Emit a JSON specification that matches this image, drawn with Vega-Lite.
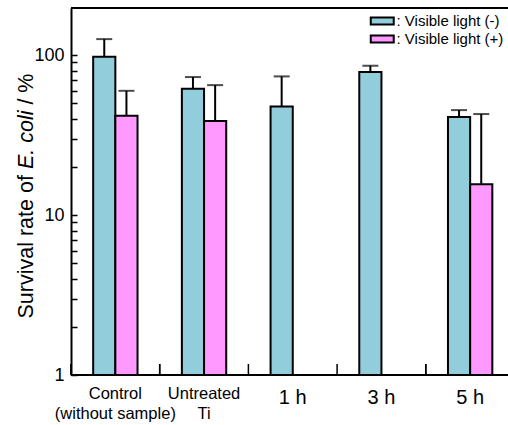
{
  "$schema": "https://vega.github.io/schema/vega-lite/v6.json",
  "width": 437,
  "height": 367,
  "autosize": {"type": "none"},
  "padding": {"left": 71, "top": 8, "right": 0, "bottom": 50},
  "background": "white",
  "config": {
    "view": {"stroke": null},
    "font": "Liberation Sans",
    "axis": {"labelColor": "black", "titleColor": "black", "domainColor": "black", "tickColor": "black", "grid": false}
  },
  "data": {
    "values": [
      {"cat": "Control", "light": "Visible light (-)", "value": 97.5, "upper": 125.9},
      {"cat": "Control", "light": "Visible light (+)", "value": 41.8, "upper": 59.8},
      {"cat": "Untreated", "light": "Visible light (-)", "value": 61.6, "upper": 72.9},
      {"cat": "Untreated", "light": "Visible light (+)", "value": 38.7, "upper": 64.9},
      {"cat": "1 h", "light": "Visible light (-)", "value": 47.8, "upper": 73.6},
      {"cat": "3 h", "light": "Visible light (-)", "value": 78.3, "upper": 85.8},
      {"cat": "5 h", "light": "Visible light (-)", "value": 41.0, "upper": 45.3},
      {"cat": "5 h", "light": "Visible light (+)", "value": 15.6, "upper": 42.8}
    ]
  },
  "resolve": {"axis": {"y": "independent"}},
  "layer": [
    {
      "mark": {"type": "bar", "stroke": "black", "strokeWidth": 2, "opacity": 1},
      "encoding": {
        "x": {
          "field": "cat", "type": "nominal", "sort": ["Control", "Untreated", "1 h", "3 h", "5 h"],
          "scale": {"range": [0, 443.5], "paddingInner": 0, "paddingOuter": 0},
          "axis": {
            "title": null, "labelAngle": 0, "labelOverlap": false, "labelBound": false, "labelFlush": false,
            "domain": false, "ticks": false,
            "labelBaseline": "top", "labelLineHeight": 20,
            "labelFontSize": {"condition": {"test": "datum.value == 'Control' || datum.value == 'Untreated'", "value": 16.5}, "value": 20},
            "labelPadding": {"condition": {"test": "datum.value == 'Control' || datum.value == 'Untreated'", "value": 10}, "value": 12.5},
            "labelExpr": "datum.value == 'Control' ? ['Control', '(without sample)'] : datum.value == 'Untreated' ? ['Untreated', 'Ti'] : datum.value"
          }
        },
        "xOffset": {"field": "light", "type": "nominal", "scale": {"domain": ["Visible light (-)", "Visible light (+)"], "paddingInner": 0, "paddingOuter": 1.464}},
        "y": {
          "field": "value", "type": "quantitative",
          "scale": {"type": "log", "domain": [1, 197]},
          "axis": {
            "orient": "left",
            "values": [1, 2, 3, 4, 5, 6, 7, 8, 9, 10, 20, 30, 40, 50, 60, 70, 80, 90, 100],
            "labelExpr": "datum.value == 1 ? '1' : datum.value == 10 ? '10' : datum.value == 100 ? '100' : ''",
            "labelFontSize": 18, "labelPadding": 13, "tickSize": -6, "tickWidth": 1.5, "domainWidth": 2,
            "title": "Survival rate of", "titleFontSize": 21.5, "titleFontWeight": "normal",
            "titleAngle": -90, "titleAlign": "left", "titleBaseline": "alphabetic", "titleX": -39, "titleY": 310
          }
        },
        "y2": {"datum": 1},
        "color": {
          "field": "light", "type": "nominal",
          "scale": {"domain": ["Visible light (-)", "Visible light (+)"], "range": ["#92CDDC", "#FF99FF"]},
          "legend": {
            "orient": "none", "legendX": 303.75, "legendY": 5.5, "title": null, "padding": 0,
            "symbolType": "M-2,-0.6H2V0.6H-2Z", "symbolSize": 132, "symbolStrokeColor": "black", "symbolStrokeWidth": 2, "symbolOpacity": 1,
            "labelFontSize": 15, "labelColor": "black", "labelOffset": 6.75, "rowPadding": 2,
            "labelExpr": "': ' + datum.label"
          }
        }
      }
    },
    {
      "mark": {"type": "rule", "color": "black", "strokeWidth": 2},
      "encoding": {
        "x": {"field": "cat", "type": "nominal", "sort": ["Control", "Untreated", "1 h", "3 h", "5 h"]},
        "xOffset": {"field": "light", "type": "nominal", "scale": {"domain": ["Visible light (-)", "Visible light (+)"], "paddingInner": 0, "paddingOuter": 1.464}},
        "y": {
          "field": "upper", "type": "quantitative", "scale": {"type": "log", "domain": [1, 197]},
          "axis": {
            "orient": "left", "labels": false, "ticks": false, "domain": false, "grid": false,
            "title": "E. coli", "titleFontStyle": "italic", "titleFontSize": 21.5, "titleFontWeight": "normal",
            "titleAngle": -90, "titleAlign": "left", "titleBaseline": "alphabetic", "titleX": -39, "titleY": 160.6
          }
        },
        "y2": {"field": "value"}
      }
    },
    {
      "mark": {"type": "tick", "color": "black", "thickness": 2, "size": 16},
      "encoding": {
        "x": {"field": "cat", "type": "nominal", "sort": ["Control", "Untreated", "1 h", "3 h", "5 h"]},
        "xOffset": {"field": "light", "type": "nominal", "scale": {"domain": ["Visible light (-)", "Visible light (+)"], "paddingInner": 0, "paddingOuter": 1.464}},
        "y": {
          "field": "upper", "type": "quantitative", "scale": {"type": "log", "domain": [1, 197]},
          "axis": {
            "orient": "left", "labels": false, "ticks": false, "domain": false, "grid": false,
            "title": "/ %", "titleFontSize": 21.5, "titleFontWeight": "normal",
            "titleAngle": -90, "titleAlign": "left", "titleBaseline": "alphabetic", "titleX": -39, "titleY": 96.1
          }
        }
      }
    },
    {
      "mark": {"type": "rule", "color": "black", "strokeWidth": 2},
      "encoding": {
        "y": {"datum": 197, "type": "quantitative", "scale": {"type": "log", "domain": [1, 197]}, "axis": null}
      }
    },
    {
      "mark": {"type": "rule", "color": "black", "strokeWidth": 2},
      "encoding": {
        "y": {"datum": 1, "type": "quantitative", "scale": {"type": "log", "domain": [1, 197]}, "axis": null}
      }
    },
    {
      "mark": {"type": "rule", "color": "black", "strokeWidth": 1.5},
      "encoding": {
        "x": {"field": "cat", "type": "nominal", "sort": ["Control", "Untreated", "1 h", "3 h", "5 h"], "bandPosition": 0},
        "y": {"datum": 1, "type": "quantitative", "scale": {"type": "log", "domain": [1, 197]}, "axis": null},
        "y2": {"datum": 1.171}
      }
    }
  ]
}
